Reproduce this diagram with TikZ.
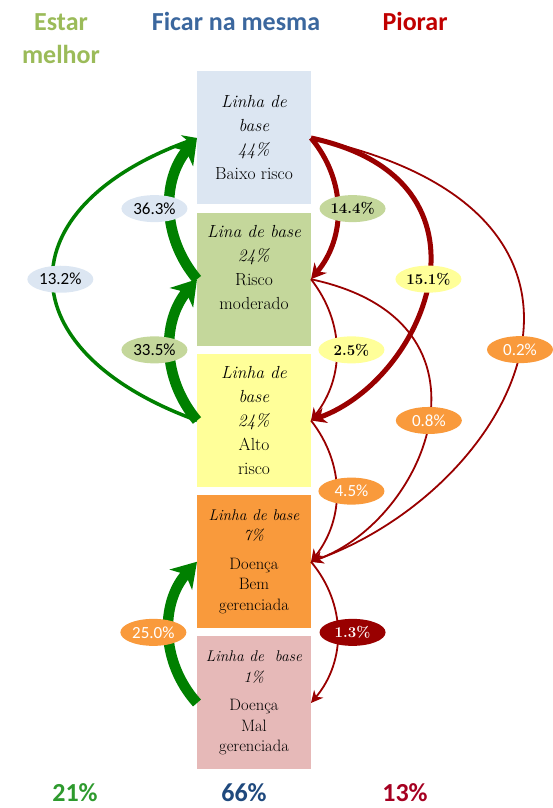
\documentclass[tikz,border=0pt]{standalone}
\usepackage{fontspec}
\usepackage{tikz}
\newfontfamily\calibri{Carlito}
\definecolor{boxblue}{HTML}{DCE6F2}
\definecolor{boxgreen}{HTML}{C4D79B}
\definecolor{boxyellow}{HTML}{FFFF99}
\definecolor{boxorange}{HTML}{F99A3C}
\definecolor{boxpink}{HTML}{E6B9B8}
\definecolor{better}{HTML}{008000}
\definecolor{worse}{HTML}{990000}
\definecolor{headgreen}{HTML}{9BBB59}
\definecolor{headblue}{HTML}{3B679E}
\definecolor{headred}{HTML}{C00000}
\definecolor{totgreen}{HTML}{2E9A2E}
\definecolor{totblue}{HTML}{1F497D}
\definecolor{totred}{HTML}{A50021}
\tikzset{
    risk/.style={minimum width=114pt, minimum height=133pt, inner sep=0pt, outer sep=0pt,
        align=center, font=\fontsize{17.5}{24}\selectfont},
    ill/.style={risk, font=\fontsize{16.5}{20.5}\selectfont},
    head/.style={font=\calibri\bfseries\fontsize{26}{33}\selectfont, align=center},
    pct/.style={ellipse, minimum width=66pt, minimum height=27pt, inner sep=0pt,
        font=\calibri\fontsize{17}{17}\selectfont},
    pctser/.style={pct, font=\bfseries\fontsize{15}{15}\selectfont},
    upthick/.style={draw=better, line width=10.5pt, -{Stealth[length=24pt,width=30pt,inset=7pt]}},
    upthin/.style={draw=better, line width=3.5pt, -{Stealth[length=14pt,width=16pt]}},
    downthick/.style={draw=worse, line width=5pt, -{Stealth[length=15pt,width=16pt]}},
    downthin/.style={draw=worse, line width=1.8pt, -{Stealth[length=12pt,width=12pt]}} }
\usetikzlibrary{positioning, arrows.meta, shapes.geometric}

\begin{document}
\begin{tikzpicture}[x=1pt, y=1pt, node distance=8.25pt]
      \useasboundingbox (0,0) rectangle (552,808);
      \node[head, text=headgreen] (melhor) at (61,769) {Estar\\melhor};
      \node[head, text=headblue, anchor=base] (mesma) at (236,777) {Ficar na mesma};
      \node[head, text=headred, anchor=base] (piorar) at (415,777) {Piorar};
      % ----
      \node[risk, fill=boxblue] (baixo) at (254,670)
          {\textit{Linha de}\\\textit{base}\\\textit{44\%}\\Baixo risco};
      \node[risk, fill=boxgreen, below = of baixo] (moderado)
          {\textit{Lina de base}\\\textit{24\%}\\Risco\\moderado\\[0pt]\mbox{}};
      \node[risk, fill=boxyellow, below = of moderado] (alto)
          {\textit{Linha de}\\\textit{base}\\\textit{24\%}\\Alto\\risco};
      \node[ill, fill=boxorange, below = of alto] (bem)
          {\textit{\fontsize{15.5}{20.5}\selectfont Linha de base}\\\textit{\fontsize{15.5}{20.5}\selectfont 7\%}\\[8pt]Doença\\Bem\\gerenciada};
      \node[ill, fill=boxpink, below = of bem] (mal)
          {\textit{\fontsize{15.5}{20.5}\selectfont Linha de~ base}\\\textit{\fontsize{15.5}{20.5}\selectfont 1\%}\\[8pt]Doença\\Mal\\gerenciada};
      % ----
      \node[head, text=totgreen, anchor=base] (totmelhor) at (75,6) {21\%};
      \node[head, text=totblue, anchor=base] (totmesma) at (244,6) {66\%};
      \node[head, text=totred, anchor=base] (totpiorar) at (405,6) {13\%};
      % ---- estar melhor
      \draw[upthin] (alto.west) to[out=160, in=200, looseness=1.85]
          node[pct, fill=boxblue, xshift=7pt] {13.2\%} (baixo.west);
      \draw[upthick] (moderado.west) to[bend left=40]
          node[pct, fill=boxblue, xshift=-16pt] {36.3\%} (baixo.west);
      \draw[upthick] (alto.west) to[bend left=40]
          node[pct, fill=boxgreen, xshift=-16pt] {33.5\%} (moderado.west);
      \draw[upthick] (mal.west) to[bend left=42]
          node[pct, fill=boxorange, text=white, xshift=-16pt] {25.0\%} (bem.west);
      % ---- piorar
      \draw[downthin] (baixo.east) to[out=-12, in=20, out looseness=2.17, in looseness=1.33]
          node[pct, fill=boxorange, text=white] {0.2\%} (bem.east);
      \draw[downthin] (moderado.east) to[out=-12, in=20, out looseness=1.84, in looseness=1.12]
          node[pct, fill=boxorange, text=white] {0.8\%} (bem.east);
      \draw[downthick] (baixo.east) to[out=-12, in=20, out looseness=1.83, in looseness=1.12]
          node[pctser, fill=boxyellow] {15.1\%} (alto.east);
      \draw[downthick] (baixo.east) to[bend left=40]
          node[pctser, fill=boxgreen, xshift=15pt] {14.4\%} (moderado.east);
      \draw[downthin] (moderado.east) to[bend left=38]
          node[pctser, fill=boxyellow, xshift=15pt] {2.5\%} (alto.east);
      \draw[downthin] (alto.east) to[bend left=38]
          node[pct, fill=boxorange, text=white, xshift=15pt] {4.5\%} (bem.east);
      \draw[downthin] (bem.east) to[bend left=40]
          node[pctser, fill=worse, text=white, xshift=15pt] {1.3\%} (mal.east);
\end{tikzpicture}
\end{document}
